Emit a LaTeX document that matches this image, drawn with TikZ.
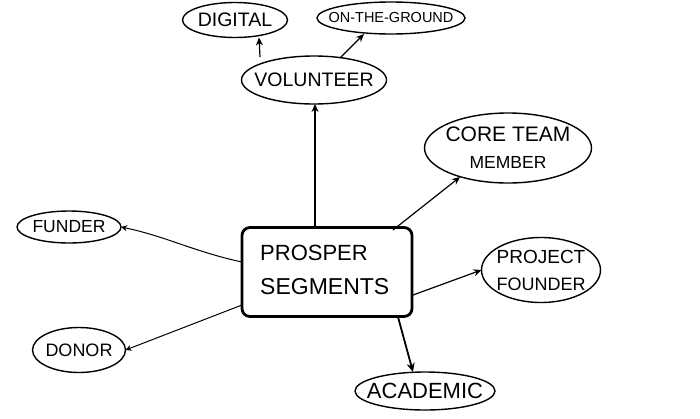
\documentclass[tikz,border=0pt]{standalone}
\usepackage{fontspec}
\setmainfont{Liberation Sans}
\usetikzlibrary{shapes.geometric,arrows.meta}
\tikzset{
  bub/.style={draw, ellipse, line width=1.4pt, inner sep=0pt, outer sep=0pt},
  conn/.style={line width=1.2pt, -{Stealth[length=8pt,width=7pt]}},
  fs/.style={font=\fontsize{#1}{#1}\selectfont}
}
\begin{document}
\begin{tikzpicture}[x=1pt,y=-1pt]
\useasboundingbox (0,0) rectangle (700,418);
\fill[white] (0,0) rectangle (700,418);
% central box
\node[draw, line width=2.8pt, rounded corners=8pt, minimum width=170pt, minimum height=89pt, inner sep=0pt] (ps) at (327,272) {};
\node[fs=22, align=left, anchor=west, inner sep=0pt] (pst) at (260,270) {PROSPER\\[12pt]{\fontsize{23}{23}\selectfont SEGMENTS}};
% bubbles
\node[bub, minimum width=105pt, minimum height=35pt, label={[fs=19.5]center:DIGITAL}] (dig) at (235,20) {};
\node[bub, minimum width=148pt, minimum height=32pt, label={[fs=14.5]center:ON-THE-GROUND}] (otg) at (391,18) {};
\node[bub, minimum width=145pt, minimum height=48pt, label={[fs=19.5]center:VOLUNTEER}] (vol) at (314,80) {};
\node[bub, minimum width=104pt, minimum height=32pt, label={[fs=17.5]center:FUNDER}] (fun) at (69,227) {};
\node[bub, minimum width=93pt, minimum height=45pt, label={[fs=18]center:DONOR}] (don) at (79,350) {};
\node[bub, minimum width=140pt, minimum height=38pt, label={[fs=22]center:ACADEMIC}] (aca) at (425,391) {};
\node[bub, minimum width=167pt, minimum height=70pt, label={[fs=21, align=center]center:CORE TEAM\\[6pt]{\fontsize{17.5}{17.5}\selectfont MEMBER}}] (ctm) at (508,148) {};
\node[bub, minimum width=119pt, minimum height=65pt, label={[fs=19, align=center]center:PROJECT\\[8pt]{\fontsize{18}{18}\selectfont FOUNDER}}] (pf) at (541,270) {};
% connectors
\coordinate (psTop) at (315,228);
\draw[conn] (psTop) -- (vol.south -| psTop);
\coordinate (v1) at (260,57);
\draw[conn] (v1) -- (dig.south -| 259,0);
\coordinate (v2) at (340,58);
\coordinate (otgb) at (364,34);
\draw[conn] (v2) -- (otgb);
\coordinate (c1) at (393,230);
\coordinate (ctmb) at (460,177);
\draw[conn] (c1) -- (ctmb);
\coordinate (p1) at (413,295);
\draw[conn] (p1) -- (pf.west);
\coordinate (a1) at (398,317);
\draw[line width=1.8pt, -{Stealth[length=9pt,width=8pt]}] (a1) -- (aca.north -| 413,0);
\coordinate (f1) at (242,262);
\draw[line width=1pt, -{Stealth[length=6pt,width=6pt,open]}] (f1) .. controls (195,252) and (165,236) .. (fun.east);
\coordinate (d1) at (242,305);
\draw[line width=1pt, -{Stealth[length=6pt,width=6pt,open]}] (d1) -- (don.east);
\end{tikzpicture}
\end{document}
